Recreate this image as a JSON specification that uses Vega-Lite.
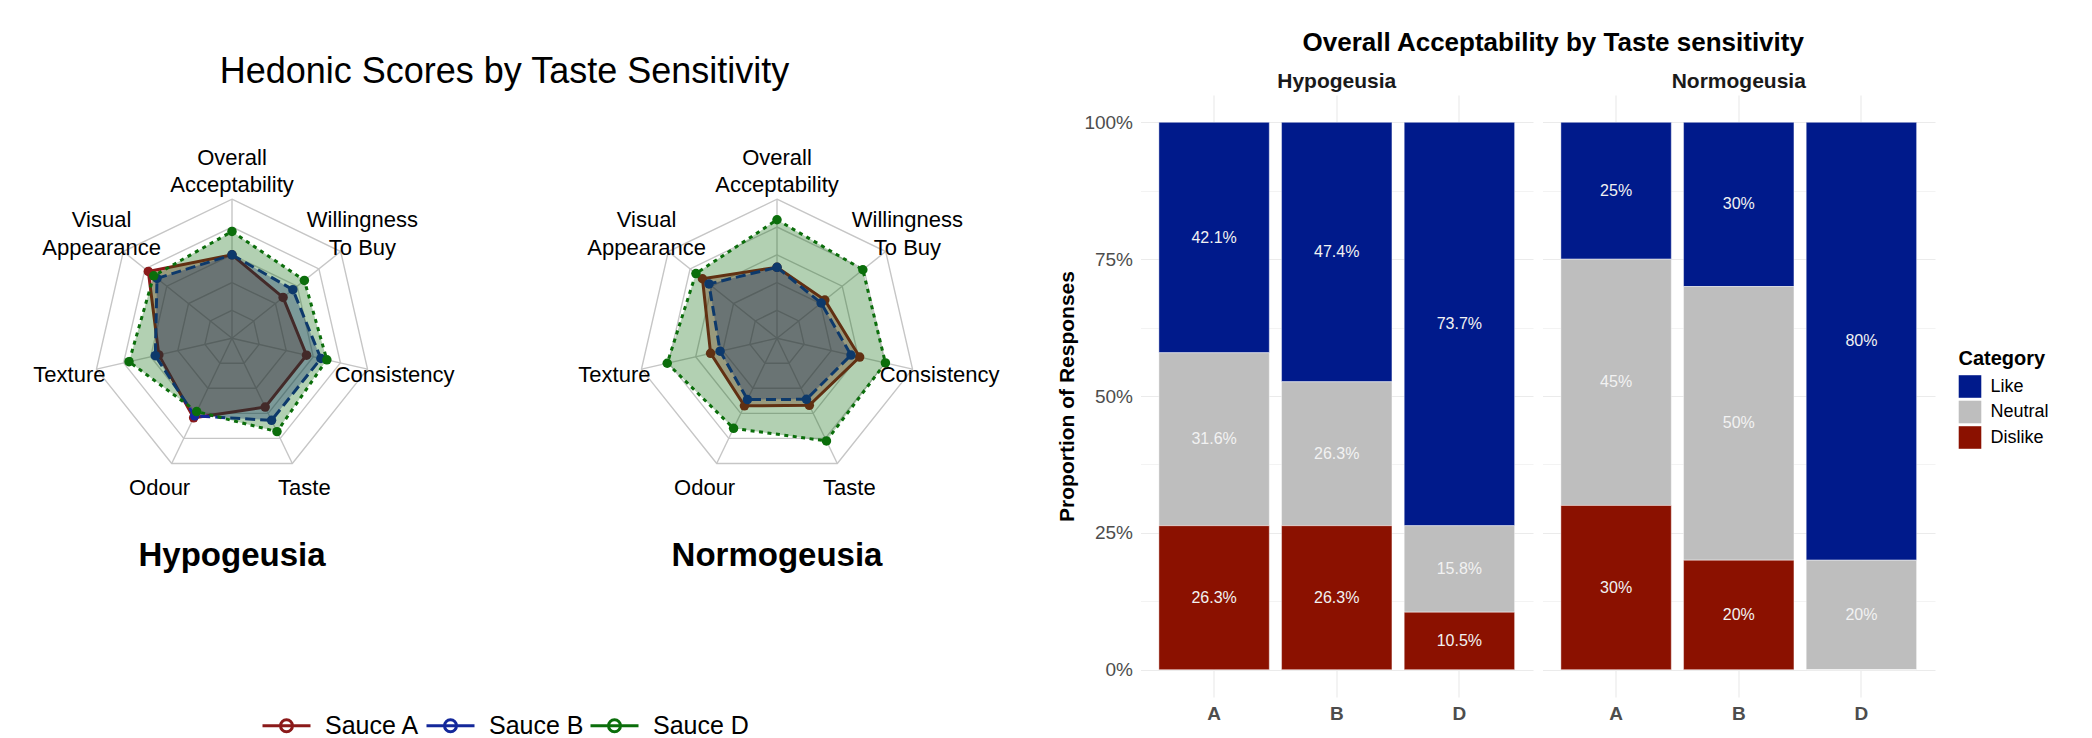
{
  "$schema": "https://vega.github.io/schema/vega-lite/v6.json",
  "background": "white",
  "padding": {"left": 2, "top": 30, "right": 0, "bottom": 0},
  "config": {
    "font": "Liberation Sans",
    "view": {"stroke": null},
    "title": {"color": "#000000"},
    "legend": {"layout": {"bottom": {"anchor": "middle"}}}
  },
  "datasets": {
    "radar": [
      {"group": "Hypogeusia", "sauce": "Sauce A", "attr": "Overall Acceptability", "score": 3.0},
      {"group": "Hypogeusia", "sauce": "Sauce A", "attr": "Willingness To Buy", "score": 2.35},
      {"group": "Hypogeusia", "sauce": "Sauce A", "attr": "Consistency", "score": 2.75},
      {"group": "Hypogeusia", "sauce": "Sauce A", "attr": "Taste", "score": 2.75},
      {"group": "Hypogeusia", "sauce": "Sauce A", "attr": "Odour", "score": 3.18},
      {"group": "Hypogeusia", "sauce": "Sauce A", "attr": "Texture", "score": 2.7},
      {"group": "Hypogeusia", "sauce": "Sauce A", "attr": "Visual Appearance", "score": 3.85},
      {"group": "Hypogeusia", "sauce": "Sauce B", "attr": "Overall Acceptability", "score": 3.0},
      {"group": "Hypogeusia", "sauce": "Sauce B", "attr": "Willingness To Buy", "score": 2.8},
      {"group": "Hypogeusia", "sauce": "Sauce B", "attr": "Consistency", "score": 3.28},
      {"group": "Hypogeusia", "sauce": "Sauce B", "attr": "Taste", "score": 3.28},
      {"group": "Hypogeusia", "sauce": "Sauce B", "attr": "Odour", "score": 3.1},
      {"group": "Hypogeusia", "sauce": "Sauce B", "attr": "Texture", "score": 2.83},
      {"group": "Hypogeusia", "sauce": "Sauce B", "attr": "Visual Appearance", "score": 3.45},
      {"group": "Hypogeusia", "sauce": "Sauce D", "attr": "Overall Acceptability", "score": 3.84},
      {"group": "Hypogeusia", "sauce": "Sauce D", "attr": "Willingness To Buy", "score": 3.33},
      {"group": "Hypogeusia", "sauce": "Sauce D", "attr": "Consistency", "score": 3.5},
      {"group": "Hypogeusia", "sauce": "Sauce D", "attr": "Taste", "score": 3.73},
      {"group": "Hypogeusia", "sauce": "Sauce D", "attr": "Odour", "score": 2.93},
      {"group": "Hypogeusia", "sauce": "Sauce D", "attr": "Texture", "score": 3.8},
      {"group": "Hypogeusia", "sauce": "Sauce D", "attr": "Visual Appearance", "score": 3.6},
      {"group": "Normogeusia", "sauce": "Sauce A", "attr": "Overall Acceptability", "score": 2.55},
      {"group": "Normogeusia", "sauce": "Sauce A", "attr": "Willingness To Buy", "score": 2.2},
      {"group": "Normogeusia", "sauce": "Sauce A", "attr": "Consistency", "score": 3.05},
      {"group": "Normogeusia", "sauce": "Sauce A", "attr": "Taste", "score": 2.68},
      {"group": "Normogeusia", "sauce": "Sauce A", "attr": "Odour", "score": 2.7},
      {"group": "Normogeusia", "sauce": "Sauce A", "attr": "Texture", "score": 2.45},
      {"group": "Normogeusia", "sauce": "Sauce A", "attr": "Visual Appearance", "score": 3.43},
      {"group": "Normogeusia", "sauce": "Sauce B", "attr": "Overall Acceptability", "score": 2.55},
      {"group": "Normogeusia", "sauce": "Sauce B", "attr": "Willingness To Buy", "score": 2.03},
      {"group": "Normogeusia", "sauce": "Sauce B", "attr": "Consistency", "score": 2.73},
      {"group": "Normogeusia", "sauce": "Sauce B", "attr": "Taste", "score": 2.44},
      {"group": "Normogeusia", "sauce": "Sauce B", "attr": "Odour", "score": 2.45},
      {"group": "Normogeusia", "sauce": "Sauce B", "attr": "Texture", "score": 2.1},
      {"group": "Normogeusia", "sauce": "Sauce B", "attr": "Visual Appearance", "score": 3.13},
      {"group": "Normogeusia", "sauce": "Sauce D", "attr": "Overall Acceptability", "score": 4.26},
      {"group": "Normogeusia", "sauce": "Sauce D", "attr": "Willingness To Buy", "score": 3.95},
      {"group": "Normogeusia", "sauce": "Sauce D", "attr": "Consistency", "score": 4.0},
      {"group": "Normogeusia", "sauce": "Sauce D", "attr": "Taste", "score": 4.1},
      {"group": "Normogeusia", "sauce": "Sauce D", "attr": "Odour", "score": 3.6},
      {"group": "Normogeusia", "sauce": "Sauce D", "attr": "Texture", "score": 4.05},
      {"group": "Normogeusia", "sauce": "Sauce D", "attr": "Visual Appearance", "score": 3.73}
    ],
    "grid": [
      {"attr": "Overall Acceptability", "score": 1}, {"attr": "Willingness To Buy", "score": 1}, {"attr": "Consistency", "score": 1}, {"attr": "Taste", "score": 1}, {"attr": "Odour", "score": 1}, {"attr": "Texture", "score": 1}, {"attr": "Visual Appearance", "score": 1},
      {"attr": "Overall Acceptability", "score": 2}, {"attr": "Willingness To Buy", "score": 2}, {"attr": "Consistency", "score": 2}, {"attr": "Taste", "score": 2}, {"attr": "Odour", "score": 2}, {"attr": "Texture", "score": 2}, {"attr": "Visual Appearance", "score": 2},
      {"attr": "Overall Acceptability", "score": 3}, {"attr": "Willingness To Buy", "score": 3}, {"attr": "Consistency", "score": 3}, {"attr": "Taste", "score": 3}, {"attr": "Odour", "score": 3}, {"attr": "Texture", "score": 3}, {"attr": "Visual Appearance", "score": 3},
      {"attr": "Overall Acceptability", "score": 4}, {"attr": "Willingness To Buy", "score": 4}, {"attr": "Consistency", "score": 4}, {"attr": "Taste", "score": 4}, {"attr": "Odour", "score": 4}, {"attr": "Texture", "score": 4}, {"attr": "Visual Appearance", "score": 4},
      {"attr": "Overall Acceptability", "score": 5}, {"attr": "Willingness To Buy", "score": 5}, {"attr": "Consistency", "score": 5}, {"attr": "Taste", "score": 5}, {"attr": "Odour", "score": 5}, {"attr": "Texture", "score": 5}, {"attr": "Visual Appearance", "score": 5}
    ],
    "labels": [
      {"attr": "Overall Acceptability", "label": "Overall\nAcceptability"},
      {"attr": "Willingness To Buy", "label": "Willingness\nTo Buy"},
      {"attr": "Consistency", "label": "Consistency"},
      {"attr": "Taste", "label": "Taste"},
      {"attr": "Odour", "label": "Odour"},
      {"attr": "Texture", "label": "Texture"},
      {"attr": "Visual Appearance", "label": "Visual\nAppearance"}
    ],
    "bars": [
      {"group": "Hypogeusia", "sauce": "A", "category": "Like", "rank": 3, "pct": 0.421},
      {"group": "Hypogeusia", "sauce": "A", "category": "Neutral", "rank": 2, "pct": 0.316},
      {"group": "Hypogeusia", "sauce": "A", "category": "Dislike", "rank": 1, "pct": 0.263},
      {"group": "Hypogeusia", "sauce": "B", "category": "Like", "rank": 3, "pct": 0.474},
      {"group": "Hypogeusia", "sauce": "B", "category": "Neutral", "rank": 2, "pct": 0.263},
      {"group": "Hypogeusia", "sauce": "B", "category": "Dislike", "rank": 1, "pct": 0.263},
      {"group": "Hypogeusia", "sauce": "D", "category": "Like", "rank": 3, "pct": 0.737},
      {"group": "Hypogeusia", "sauce": "D", "category": "Neutral", "rank": 2, "pct": 0.158},
      {"group": "Hypogeusia", "sauce": "D", "category": "Dislike", "rank": 1, "pct": 0.105},
      {"group": "Normogeusia", "sauce": "A", "category": "Like", "rank": 3, "pct": 0.25},
      {"group": "Normogeusia", "sauce": "A", "category": "Neutral", "rank": 2, "pct": 0.45},
      {"group": "Normogeusia", "sauce": "A", "category": "Dislike", "rank": 1, "pct": 0.3},
      {"group": "Normogeusia", "sauce": "B", "category": "Like", "rank": 3, "pct": 0.3},
      {"group": "Normogeusia", "sauce": "B", "category": "Neutral", "rank": 2, "pct": 0.5},
      {"group": "Normogeusia", "sauce": "B", "category": "Dislike", "rank": 1, "pct": 0.2},
      {"group": "Normogeusia", "sauce": "D", "category": "Like", "rank": 3, "pct": 0.8},
      {"group": "Normogeusia", "sauce": "D", "category": "Neutral", "rank": 2, "pct": 0.2},
      {"group": "Normogeusia", "sauce": "D", "category": "Dislike", "rank": 1, "pct": 0.0}
    ]
  },
  "spacing": 49.5,
  "resolve": {"scale": {"color": "independent"}},
  "hconcat": [
    {
      "title": {"text": "Hedonic Scores by Taste Sensitivity", "fontSize": 36, "fontWeight": "normal", "offset": 4, "anchor": "middle"},
      "spacing": 85,
      "hconcat": [
        {
          "width": 460, "height": 415,
          "title": {"text": "Hypogeusia", "orient": "bottom", "fontSize": 33, "fontWeight": "bold", "offset": 30, "anchor": "middle"},
          "layer": [
            {"data": {"name": "grid"},
             "transform": [
               {"calculate": "indexof(['Overall Acceptability','Willingness To Buy','Consistency','Taste','Odour','Texture','Visual Appearance'], datum.attr)", "as": "ai"},
               {"calculate": "datum.score/5*sin(datum.ai*2*PI/7)", "as": "px"},
               {"calculate": "datum.score/5*cos(datum.ai*2*PI/7)", "as": "py"}],
             "mark": {"type": "line", "interpolate": "linear-closed", "stroke": "#c6c6c6", "strokeWidth": 1.4},
             "encoding": {
               "x": {"field": "px", "type": "quantitative", "scale": {"domain": [-1.6547, 1.6547], "nice": false, "zero": false}, "axis": null},
               "y": {"field": "py", "type": "quantitative", "scale": {"domain": [-1.236, 1.7496], "nice": false, "zero": false}, "axis": null},
               "detail": {"field": "score"}, "order": {"field": "ai"}}},
            {"data": {"name": "grid"},
             "transform": [
               {"filter": "datum.score == 5"},
               {"calculate": "indexof(['Overall Acceptability','Willingness To Buy','Consistency','Taste','Odour','Texture','Visual Appearance'], datum.attr)", "as": "ai"},
               {"calculate": "datum.score/5*sin(datum.ai*2*PI/7)", "as": "px"},
               {"calculate": "datum.score/5*cos(datum.ai*2*PI/7)", "as": "py"}],
             "mark": {"type": "rule", "stroke": "#c6c6c6", "strokeWidth": 1.4},
             "encoding": {
               "x": {"field": "px", "type": "quantitative"}, "y": {"field": "py", "type": "quantitative"},
               "x2": {"datum": 0}, "y2": {"datum": 0}}},
            {"data": {"name": "radar"},
             "transform": [
               {"filter": "datum.group == 'Hypogeusia' && datum.sauce == 'Sauce A'"},
               {"calculate": "indexof(['Overall Acceptability','Willingness To Buy','Consistency','Taste','Odour','Texture','Visual Appearance'], datum.attr)", "as": "ai"},
               {"calculate": "datum.score/5*sin(datum.ai*2*PI/7)", "as": "px"},
               {"calculate": "datum.score/5*cos(datum.ai*2*PI/7)", "as": "py"}],
             "layer": [
               {"mark": {"type": "line", "interpolate": "linear-closed", "filled": true, "fill": "#8B0000", "fillOpacity": 0.3, "strokeWidth": 0},
                "encoding": {"x": {"field": "px", "type": "quantitative"}, "y": {"field": "py", "type": "quantitative"}, "order": {"field": "ai"}}},
               {"mark": {"type": "line", "interpolate": "linear-closed", "strokeWidth": 3},
                "encoding": {"x": {"field": "px", "type": "quantitative"}, "y": {"field": "py", "type": "quantitative"}, "order": {"field": "ai"},
                  "color": {"field": "sauce", "type": "nominal",
                    "scale": {"domain": ["Sauce A", "Sauce B", "Sauce D"], "range": ["#8B1A1A", "#14289A", "#0B6E0B"]},
                    "legend": {"title": null, "orient": "bottom", "direction": "horizontal", "offset": 127,
                      "symbolType": "M-1,0L1,0M-0.25,0A0.25,0.25 0 1,0 0.25,0A0.25,0.25 0 1,0 -0.25,0",
                      "symbolSize": 2304, "symbolStrokeWidth": 3, "symbolDash": [], "symbolFillColor": "white",
                      "labelFontSize": 25, "labelColor": "#000000", "labelOffset": 13, "columnPadding": 0}}}},
               {"mark": {"type": "point", "filled": true, "color": "#8B1A1A", "size": 90, "opacity": 1},
                "encoding": {"x": {"field": "px", "type": "quantitative"}, "y": {"field": "py", "type": "quantitative"}}}
             ]},
            {"data": {"name": "radar"},
             "transform": [
               {"filter": "datum.group == 'Hypogeusia' && datum.sauce == 'Sauce B'"},
               {"calculate": "indexof(['Overall Acceptability','Willingness To Buy','Consistency','Taste','Odour','Texture','Visual Appearance'], datum.attr)", "as": "ai"},
               {"calculate": "datum.score/5*sin(datum.ai*2*PI/7)", "as": "px"},
               {"calculate": "datum.score/5*cos(datum.ai*2*PI/7)", "as": "py"}],
             "layer": [
               {"mark": {"type": "line", "interpolate": "linear-closed", "filled": true, "fill": "#00008B", "fillOpacity": 0.3, "strokeWidth": 0},
                "encoding": {"x": {"field": "px", "type": "quantitative"}, "y": {"field": "py", "type": "quantitative"}, "order": {"field": "ai"}}},
               {"mark": {"type": "line", "interpolate": "linear-closed", "strokeWidth": 3, "strokeDash": [10, 5]},
                "encoding": {"x": {"field": "px", "type": "quantitative"}, "y": {"field": "py", "type": "quantitative"}, "order": {"field": "ai"},
                  "color": {"field": "sauce", "type": "nominal", "scale": {"domain": ["Sauce A", "Sauce B", "Sauce D"], "range": ["#8B1A1A", "#14289A", "#0B6E0B"]}}}},
               {"mark": {"type": "point", "filled": true, "color": "#14289A", "size": 90, "opacity": 1},
                "encoding": {"x": {"field": "px", "type": "quantitative"}, "y": {"field": "py", "type": "quantitative"}}}
             ]},
            {"data": {"name": "radar"},
             "transform": [
               {"filter": "datum.group == 'Hypogeusia' && datum.sauce == 'Sauce D'"},
               {"calculate": "indexof(['Overall Acceptability','Willingness To Buy','Consistency','Taste','Odour','Texture','Visual Appearance'], datum.attr)", "as": "ai"},
               {"calculate": "datum.score/5*sin(datum.ai*2*PI/7)", "as": "px"},
               {"calculate": "datum.score/5*cos(datum.ai*2*PI/7)", "as": "py"}],
             "layer": [
               {"mark": {"type": "line", "interpolate": "linear-closed", "filled": true, "fill": "#006400", "fillOpacity": 0.3, "strokeWidth": 0},
                "encoding": {"x": {"field": "px", "type": "quantitative"}, "y": {"field": "py", "type": "quantitative"}, "order": {"field": "ai"}}},
               {"mark": {"type": "line", "interpolate": "linear-closed", "strokeWidth": 3, "strokeDash": [4, 4.5]},
                "encoding": {"x": {"field": "px", "type": "quantitative"}, "y": {"field": "py", "type": "quantitative"}, "order": {"field": "ai"},
                  "color": {"field": "sauce", "type": "nominal", "scale": {"domain": ["Sauce A", "Sauce B", "Sauce D"], "range": ["#8B1A1A", "#14289A", "#0B6E0B"]}}}},
               {"mark": {"type": "point", "filled": true, "color": "#0B6E0B", "size": 90, "opacity": 1},
                "encoding": {"x": {"field": "px", "type": "quantitative"}, "y": {"field": "py", "type": "quantitative"}}}
             ]},
            {"data": {"name": "labels"},
             "transform": [
               {"filter": "indexof(datum.label, '\\n') < 0"},
               {"calculate": "indexof(['Overall Acceptability','Willingness To Buy','Consistency','Taste','Odour','Texture','Visual Appearance'], datum.attr)", "as": "ai"},
               {"calculate": "1.2*sin(datum.ai*2*PI/7)", "as": "px"},
               {"calculate": "1.2*cos(datum.ai*2*PI/7)", "as": "py"}],
             "mark": {"type": "text", "fontSize": 22, "lineBreak": "\n", "lineHeight": 27.7, "align": "center", "baseline": "middle", "color": "#000000"},
             "encoding": {"x": {"field": "px", "type": "quantitative"}, "y": {"field": "py", "type": "quantitative"}, "text": {"field": "label"}}},
            {"data": {"name": "labels"},
             "transform": [
               {"filter": "indexof(datum.label, '\\n') >= 0"},
               {"calculate": "indexof(['Overall Acceptability','Willingness To Buy','Consistency','Taste','Odour','Texture','Visual Appearance'], datum.attr)", "as": "ai"},
               {"calculate": "1.2*sin(datum.ai*2*PI/7)", "as": "px"},
               {"calculate": "1.2*cos(datum.ai*2*PI/7)", "as": "py"}],
             "mark": {"type": "text", "fontSize": 22, "lineBreak": "\n", "lineHeight": 27.7, "align": "center", "baseline": "middle", "dy": -13.85, "color": "#000000"},
             "encoding": {"x": {"field": "px", "type": "quantitative"}, "y": {"field": "py", "type": "quantitative"}, "text": {"field": "label"}}}
          ]
        },
        {
          "width": 460, "height": 415,
          "title": {"text": "Normogeusia", "orient": "bottom", "fontSize": 33, "fontWeight": "bold", "offset": 30, "anchor": "middle"},
          "layer": [
            {"data": {"name": "grid"},
             "transform": [
               {"calculate": "indexof(['Overall Acceptability','Willingness To Buy','Consistency','Taste','Odour','Texture','Visual Appearance'], datum.attr)", "as": "ai"},
               {"calculate": "datum.score/5*sin(datum.ai*2*PI/7)", "as": "px"},
               {"calculate": "datum.score/5*cos(datum.ai*2*PI/7)", "as": "py"}],
             "mark": {"type": "line", "interpolate": "linear-closed", "stroke": "#c6c6c6", "strokeWidth": 1.4},
             "encoding": {
               "x": {"field": "px", "type": "quantitative", "scale": {"domain": [-1.6547, 1.6547], "nice": false, "zero": false}, "axis": null},
               "y": {"field": "py", "type": "quantitative", "scale": {"domain": [-1.236, 1.7496], "nice": false, "zero": false}, "axis": null},
               "detail": {"field": "score"}, "order": {"field": "ai"}}},
            {"data": {"name": "grid"},
             "transform": [
               {"filter": "datum.score == 5"},
               {"calculate": "indexof(['Overall Acceptability','Willingness To Buy','Consistency','Taste','Odour','Texture','Visual Appearance'], datum.attr)", "as": "ai"},
               {"calculate": "datum.score/5*sin(datum.ai*2*PI/7)", "as": "px"},
               {"calculate": "datum.score/5*cos(datum.ai*2*PI/7)", "as": "py"}],
             "mark": {"type": "rule", "stroke": "#c6c6c6", "strokeWidth": 1.4},
             "encoding": {
               "x": {"field": "px", "type": "quantitative"}, "y": {"field": "py", "type": "quantitative"},
               "x2": {"datum": 0}, "y2": {"datum": 0}}},
            {"data": {"name": "radar"},
             "transform": [
               {"filter": "datum.group == 'Normogeusia' && datum.sauce == 'Sauce A'"},
               {"calculate": "indexof(['Overall Acceptability','Willingness To Buy','Consistency','Taste','Odour','Texture','Visual Appearance'], datum.attr)", "as": "ai"},
               {"calculate": "datum.score/5*sin(datum.ai*2*PI/7)", "as": "px"},
               {"calculate": "datum.score/5*cos(datum.ai*2*PI/7)", "as": "py"}],
             "layer": [
               {"mark": {"type": "line", "interpolate": "linear-closed", "filled": true, "fill": "#8B0000", "fillOpacity": 0.3, "strokeWidth": 0},
                "encoding": {"x": {"field": "px", "type": "quantitative"}, "y": {"field": "py", "type": "quantitative"}, "order": {"field": "ai"}}},
               {"mark": {"type": "line", "interpolate": "linear-closed", "strokeWidth": 3},
                "encoding": {"x": {"field": "px", "type": "quantitative"}, "y": {"field": "py", "type": "quantitative"}, "order": {"field": "ai"},
                  "color": {"field": "sauce", "type": "nominal", "scale": {"domain": ["Sauce A", "Sauce B", "Sauce D"], "range": ["#8B1A1A", "#14289A", "#0B6E0B"]}}}},
               {"mark": {"type": "point", "filled": true, "color": "#8B1A1A", "size": 90, "opacity": 1},
                "encoding": {"x": {"field": "px", "type": "quantitative"}, "y": {"field": "py", "type": "quantitative"}}}
             ]},
            {"data": {"name": "radar"},
             "transform": [
               {"filter": "datum.group == 'Normogeusia' && datum.sauce == 'Sauce B'"},
               {"calculate": "indexof(['Overall Acceptability','Willingness To Buy','Consistency','Taste','Odour','Texture','Visual Appearance'], datum.attr)", "as": "ai"},
               {"calculate": "datum.score/5*sin(datum.ai*2*PI/7)", "as": "px"},
               {"calculate": "datum.score/5*cos(datum.ai*2*PI/7)", "as": "py"}],
             "layer": [
               {"mark": {"type": "line", "interpolate": "linear-closed", "filled": true, "fill": "#00008B", "fillOpacity": 0.3, "strokeWidth": 0},
                "encoding": {"x": {"field": "px", "type": "quantitative"}, "y": {"field": "py", "type": "quantitative"}, "order": {"field": "ai"}}},
               {"mark": {"type": "line", "interpolate": "linear-closed", "strokeWidth": 3, "strokeDash": [10, 5]},
                "encoding": {"x": {"field": "px", "type": "quantitative"}, "y": {"field": "py", "type": "quantitative"}, "order": {"field": "ai"},
                  "color": {"field": "sauce", "type": "nominal", "scale": {"domain": ["Sauce A", "Sauce B", "Sauce D"], "range": ["#8B1A1A", "#14289A", "#0B6E0B"]}}}},
               {"mark": {"type": "point", "filled": true, "color": "#14289A", "size": 90, "opacity": 1},
                "encoding": {"x": {"field": "px", "type": "quantitative"}, "y": {"field": "py", "type": "quantitative"}}}
             ]},
            {"data": {"name": "radar"},
             "transform": [
               {"filter": "datum.group == 'Normogeusia' && datum.sauce == 'Sauce D'"},
               {"calculate": "indexof(['Overall Acceptability','Willingness To Buy','Consistency','Taste','Odour','Texture','Visual Appearance'], datum.attr)", "as": "ai"},
               {"calculate": "datum.score/5*sin(datum.ai*2*PI/7)", "as": "px"},
               {"calculate": "datum.score/5*cos(datum.ai*2*PI/7)", "as": "py"}],
             "layer": [
               {"mark": {"type": "line", "interpolate": "linear-closed", "filled": true, "fill": "#006400", "fillOpacity": 0.3, "strokeWidth": 0},
                "encoding": {"x": {"field": "px", "type": "quantitative"}, "y": {"field": "py", "type": "quantitative"}, "order": {"field": "ai"}}},
               {"mark": {"type": "line", "interpolate": "linear-closed", "strokeWidth": 3, "strokeDash": [4, 4.5]},
                "encoding": {"x": {"field": "px", "type": "quantitative"}, "y": {"field": "py", "type": "quantitative"}, "order": {"field": "ai"},
                  "color": {"field": "sauce", "type": "nominal", "scale": {"domain": ["Sauce A", "Sauce B", "Sauce D"], "range": ["#8B1A1A", "#14289A", "#0B6E0B"]}}}},
               {"mark": {"type": "point", "filled": true, "color": "#0B6E0B", "size": 90, "opacity": 1},
                "encoding": {"x": {"field": "px", "type": "quantitative"}, "y": {"field": "py", "type": "quantitative"}}}
             ]},
            {"data": {"name": "labels"},
             "transform": [
               {"filter": "indexof(datum.label, '\\n') < 0"},
               {"calculate": "indexof(['Overall Acceptability','Willingness To Buy','Consistency','Taste','Odour','Texture','Visual Appearance'], datum.attr)", "as": "ai"},
               {"calculate": "1.2*sin(datum.ai*2*PI/7)", "as": "px"},
               {"calculate": "1.2*cos(datum.ai*2*PI/7)", "as": "py"}],
             "mark": {"type": "text", "fontSize": 22, "lineBreak": "\n", "lineHeight": 27.7, "align": "center", "baseline": "middle", "color": "#000000"},
             "encoding": {"x": {"field": "px", "type": "quantitative"}, "y": {"field": "py", "type": "quantitative"}, "text": {"field": "label"}}},
            {"data": {"name": "labels"},
             "transform": [
               {"filter": "indexof(datum.label, '\\n') >= 0"},
               {"calculate": "indexof(['Overall Acceptability','Willingness To Buy','Consistency','Taste','Odour','Texture','Visual Appearance'], datum.attr)", "as": "ai"},
               {"calculate": "1.2*sin(datum.ai*2*PI/7)", "as": "px"},
               {"calculate": "1.2*cos(datum.ai*2*PI/7)", "as": "py"}],
             "mark": {"type": "text", "fontSize": 22, "lineBreak": "\n", "lineHeight": 27.7, "align": "center", "baseline": "middle", "dy": -13.85, "color": "#000000"},
             "encoding": {"x": {"field": "px", "type": "quantitative"}, "y": {"field": "py", "type": "quantitative"}, "text": {"field": "label"}}}
          ]
        }
      ]
    },
    {
      "data": {"name": "bars"},
      "title": {"text": "Overall Acceptability by Taste sensitivity", "fontSize": 26, "fontWeight": "bold", "anchor": "middle", "offset": 15},
      "spacing": 9,
      "facet": {"column": {"field": "group", "type": "nominal",
        "header": {"title": "Sauce", "titleOrient": "bottom", "titleFontSize": 21, "titleFontWeight": "bold", "titleColor": "#000000", "titlePadding": 8,
          "labelOrient": "top", "labelFontSize": 21, "labelFontWeight": "bold", "labelColor": "#1a1a1a", "labelPadding": 3}}},
      "spec": {
        "width": 392.5, "height": 602,
        "encoding": {
          "x": {"field": "sauce", "type": "nominal", "title": null,
            "scale": {"paddingInner": 0.1, "paddingOuter": 0.15},
            "axis": {"labelAngle": 0, "labelFontSize": 19, "labelFontWeight": "bold", "labelColor": "#4d4d4d", "ticks": false, "domain": false,
              "grid": true, "gridColor": "#ebebeb", "gridWidth": 1.2, "labelPadding": 7}},
          "y": {"field": "pct", "type": "quantitative", "stack": "zero", "title": "Proportion of Responses",
            "scale": {"domain": [-0.05, 1.05], "nice": false, "zero": false},
            "axis": {"values": [0, 0.125, 0.25, 0.375, 0.5, 0.625, 0.75, 0.875, 1],
              "labelExpr": "(datum.value*8)%2 == 1 ? '' : format(datum.value, '.0%')",
              "labelFontSize": 19, "labelColor": "#4d4d4d", "ticks": false, "domain": false, "labelPadding": 8,
              "gridColor": "#ebebeb", "gridWidth": {"condition": {"test": "(datum.value*8)%2 == 1", "value": 0.6}, "value": 1.2},
              "titleFontSize": 21, "titleFontWeight": "bold", "titleColor": "#000000", "titlePadding": 6}},
          "order": {"field": "rank", "type": "quantitative"}
        },
        "layer": [
          {"mark": {"type": "bar", "stroke": "#ffffff", "strokeWidth": 0.6, "strokeOpacity": 0.7},
           "encoding": {"color": {"field": "category", "type": "nominal",
             "scale": {"domain": ["Like", "Neutral", "Dislike"], "range": ["#001a8b", "#bebebe", "#8b1100"]},
             "legend": {"title": "Category", "orient": "none", "legendX": 818, "legendY": 254, "titleFontSize": 20, "titleFontWeight": "bold", "titleColor": "#000000", "titlePadding": 6,
               "labelFontSize": 18, "labelColor": "#000000", "symbolType": "square", "symbolSize": 510, "symbolStrokeWidth": 0, "rowPadding": 2.5, "labelOffset": 9}}}},
          {"transform": [{"filter": "datum.pct > 0"}],
           "mark": {"type": "text", "color": "#f2f2f2", "fontSize": 16},
           "encoding": {
             "y": {"field": "pct", "type": "quantitative", "stack": "zero", "bandPosition": 0.5},
             "detail": {"field": "category"},
             "text": {"field": "pct", "type": "quantitative", "format": ".1~%"}}}
        ]
      }
    }
  ]
}
